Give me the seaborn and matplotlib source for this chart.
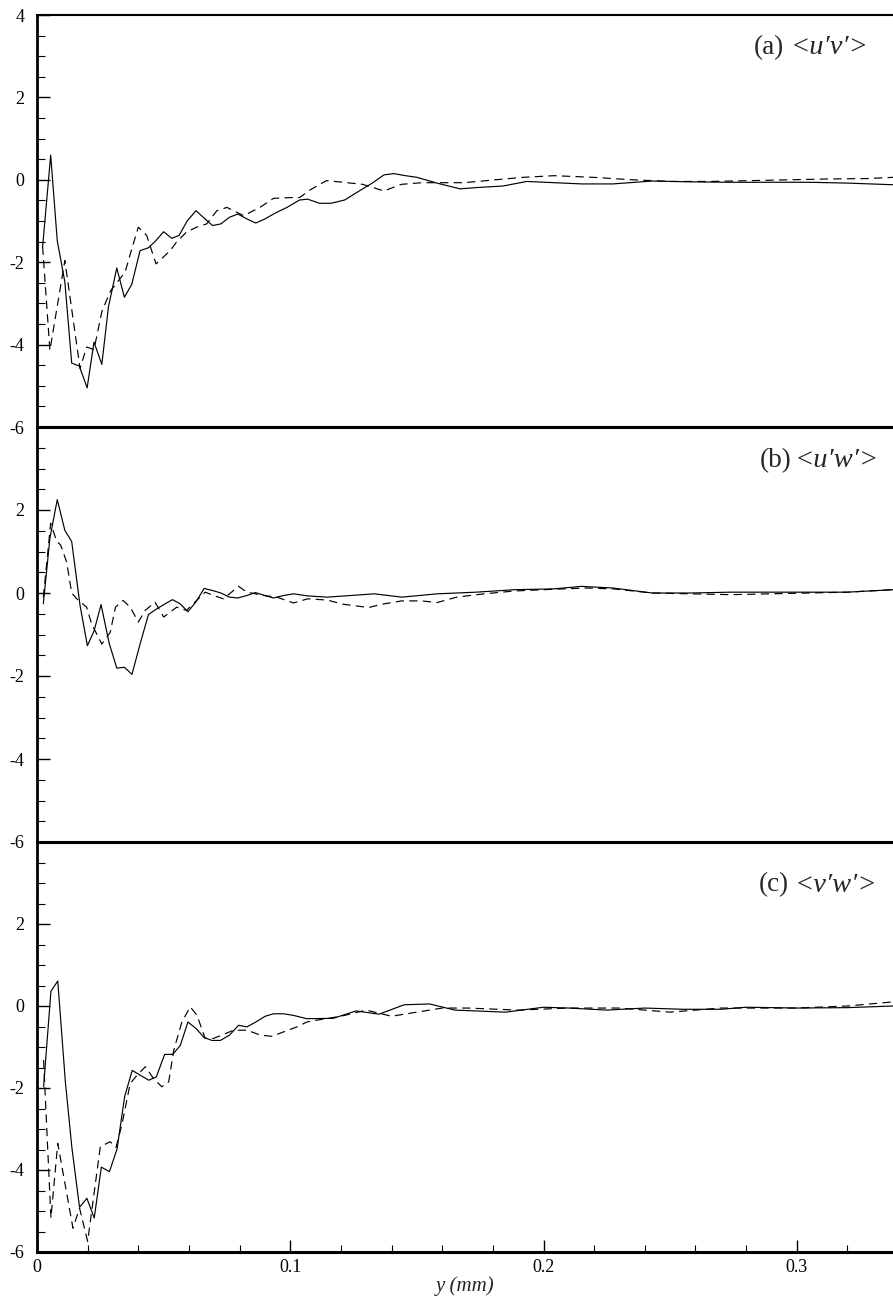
import matplotlib
matplotlib.use("Agg")
import matplotlib.pyplot as plt
from matplotlib.ticker import MultipleLocator
import seaborn as sns
import pandas as pd

# ---------------- data ----------------
ua_x = [0.0022, 0.0054, 0.008, 0.011, 0.0137, 0.0167, 0.0198, 0.0225, 0.0256, 0.0282, 0.0315, 0.0345,
        0.0374, 0.0407, 0.044, 0.0466, 0.05, 0.0532, 0.0561, 0.0594, 0.0628, 0.066, 0.0693, 0.0726,
        0.076, 0.0793, 0.0829, 0.0864, 0.09, 0.094, 0.0987, 0.1037, 0.1069, 0.1115, 0.1161, 0.1215,
        0.127, 0.1324, 0.137, 0.1409, 0.1455, 0.150, 0.1579, 0.1671, 0.1733, 0.1841, 0.1934, 0.2042,
        0.215, 0.2274, 0.2429, 0.2583, 0.2738, 0.2892, 0.3047, 0.320, 0.338]
ua_y = [-1.64, 0.60, -1.48, -2.48, -4.45, -4.52, -5.05, -3.94, -4.48, -3.09, -2.14, -2.85,
        -2.54, -1.72, -1.65, -1.5, -1.26, -1.42, -1.35, -0.99, -0.75, -0.93, -1.11, -1.07,
        -0.91, -0.83, -0.95, -1.05, -0.95, -0.81, -0.67, -0.49, -0.47, -0.57, -0.57, -0.49,
        -0.28, -0.08, 0.12, 0.15, 0.10, 0.06, -0.08, -0.22, -0.19, -0.15, -0.04, -0.07,
        -0.10, -0.10, -0.03, -0.05, -0.06, -0.06, -0.06, -0.08, -0.12]

da_x = [0.0022, 0.0051, 0.011, 0.017, 0.0196, 0.0225, 0.0256, 0.029, 0.0348, 0.0374, 0.040, 0.0433,
        0.047, 0.0526, 0.055, 0.059, 0.063, 0.067, 0.071, 0.075, 0.0776, 0.0816, 0.088, 0.0934,
        0.101, 0.1037, 0.108, 0.1143, 0.1209, 0.1285, 0.137, 0.1439, 0.152, 0.161, 0.1688, 0.181,
        0.192, 0.2042, 0.2196, 0.235, 0.2506, 0.266, 0.2815, 0.297, 0.312, 0.3277, 0.338]
da_y = [-1.62, -4.14, -1.96, -4.58, -4.06, -4.12, -3.2, -2.7, -2.24, -1.68, -1.15, -1.35,
        -2.04, -1.72, -1.52, -1.27, -1.15, -1.07, -0.75, -0.67, -0.75, -0.87, -0.67, -0.45,
        -0.43, -0.43, -0.24, -0.02, -0.06, -0.11, -0.27, -0.11, -0.07, -0.07, -0.07, 0.0,
        0.06, 0.10, 0.06, 0.0, -0.04, -0.04, -0.02, 0.0, 0.02, 0.03, 0.06]

ub_x = [0.0025, 0.0051, 0.008, 0.011, 0.0137, 0.017, 0.0199, 0.0225, 0.0253, 0.0285, 0.0315, 0.0345,
        0.0375, 0.0407, 0.044, 0.0473, 0.0506, 0.0535, 0.0565, 0.0596, 0.0627, 0.066, 0.0693, 0.0726,
        0.076, 0.0793, 0.0829, 0.0862, 0.09, 0.0934, 0.0974, 0.1013, 0.1069, 0.1146, 0.1332, 0.144,
        0.158, 0.1733, 0.1888, 0.2042, 0.215, 0.2274, 0.2429, 0.2583, 0.2738, 0.2892, 0.3047, 0.320, 0.338]
ub_y = [-0.26, 1.32, 2.25, 1.51, 1.24, -0.3, -1.27, -0.92, -0.28, -1.21, -1.81, -1.79,
        -1.96, -1.23, -0.52, -0.38, -0.26, -0.16, -0.26, -0.45, -0.22, 0.11, 0.06, 0.0,
        -0.10, -0.12, -0.06, 0.01, -0.06, -0.12, -0.06, -0.02, -0.07, -0.10, -0.02, -0.10,
        -0.02, 0.02, 0.08, 0.10, 0.16, 0.12, 0.0, 0.0, 0.02, 0.02, 0.02, 0.02, 0.08]

db_x = [0.0025, 0.0054, 0.0078, 0.0093, 0.0117, 0.0137, 0.0157, 0.0196, 0.0216, 0.0256, 0.0289, 0.031,
        0.034, 0.0368, 0.040, 0.0427, 0.0466, 0.050, 0.0552, 0.059, 0.0664, 0.0697, 0.0736, 0.0796,
        0.0829, 0.0895, 0.0947, 0.1013, 0.1069, 0.1146, 0.1208, 0.1309, 0.1363, 0.144, 0.1518, 0.158,
        0.1657, 0.1765, 0.1888, 0.2042, 0.2166, 0.2274, 0.2429, 0.2583, 0.2738, 0.2892, 0.3047, 0.320, 0.338]
db_y = [-0.1, 1.68, 1.24, 1.16, 0.75, 0.0, -0.14, -0.34, -0.75, -1.23, -0.95, -0.34,
        -0.18, -0.34, -0.70, -0.42, -0.22, -0.58, -0.34, -0.42, 0.02, -0.06, -0.14, 0.16,
        0.02, -0.06, -0.10, -0.24, -0.14, -0.17, -0.27, -0.35, -0.27, -0.19, -0.19, -0.23,
        -0.10, -0.02, 0.05, 0.09, 0.12, 0.10, 0.0, -0.02, -0.04, -0.02, 0.0, 0.02, 0.08]

uc_x = [0.0026, 0.0055, 0.0082, 0.0112, 0.0138, 0.0168, 0.0197, 0.0226, 0.0254, 0.0286, 0.0316, 0.0346,
        0.0376, 0.0408, 0.0441, 0.0471, 0.0504, 0.0536, 0.0566, 0.0596, 0.0628, 0.066, 0.0691, 0.0724,
        0.076, 0.0796, 0.0829, 0.0864, 0.0901, 0.0934, 0.0974, 0.1013, 0.1066, 0.117, 0.126, 0.135,
        0.145, 0.155, 0.165, 0.185, 0.2, 0.21, 0.225, 0.24, 0.255, 0.27, 0.28, 0.3, 0.32, 0.338]
uc_y = [-1.97, 0.36, 0.61, -1.85, -3.47, -4.91, -4.69, -5.17, -3.93, -4.04, -3.49, -2.21,
        -1.57, -1.69, -1.81, -1.73, -1.18, -1.18, -0.96, -0.39, -0.55, -0.77, -0.84, -0.84,
        -0.71, -0.47, -0.51, -0.39, -0.25, -0.19, -0.19, -0.23, -0.31, -0.3, -0.12, -0.2,
        0.03, 0.05, -0.1, -0.15, -0.03, -0.05, -0.1, -0.05, -0.08, -0.08, -0.03, -0.05, -0.04, 0.0]

dc_x = [0.0026, 0.0055, 0.0082, 0.0142, 0.0168, 0.020, 0.025, 0.0289, 0.0312, 0.0335, 0.0368, 0.0395,
        0.0428, 0.046, 0.0493, 0.052, 0.054, 0.0572, 0.0605, 0.0632, 0.0664, 0.0697, 0.073, 0.0776,
        0.0829, 0.0882, 0.0928, 0.0974, 0.1026, 0.1066, 0.11, 0.12, 0.13, 0.14, 0.15, 0.16,
        0.17, 0.19, 0.21, 0.23, 0.25, 0.27, 0.3, 0.32, 0.338]
dc_y = [-1.32, -5.17, -3.35, -5.42, -4.93, -5.74, -3.43, -3.31, -3.45, -2.9, -1.89, -1.69,
        -1.48, -1.77, -1.97, -1.85, -1.08, -0.39, -0.02, -0.23, -0.79, -0.79, -0.71, -0.59,
        -0.59, -0.71, -0.74, -0.63, -0.51, -0.39, -0.35, -0.25, -0.1, -0.25, -0.15, -0.05,
        -0.05, -0.1, -0.05, -0.05, -0.15, -0.05, -0.05, 0.0, 0.1]

panel_tags = ["(a)", "(b)", "(c)"]
panel_names = ["<u\u2032v\u2032>", "<u\u2032w\u2032>", "<v\u2032w\u2032>"]
x_ticks = [0, 0.1, 0.2, 0.3]
x_ticklabels = ["0", "0.1", "0.2", "0.3"]
y_ticks_top = [-6, -4, -2, 0, 2, 4]
y_ticks_other = [-6, -4, -2, 0, 2]

# ---------------- style ----------------
sns.set_theme(style="ticks", rc={"axes.edgecolor": "black", "xtick.color": "black",
                                 "ytick.color": "black", "axes.facecolor": "none"})
plt.rcParams["font.family"] = ["Liberation Serif", "DejaVu Serif"]
plt.rcParams["axes.unicode_minus"] = False

W, H = 893, 1298
fig = plt.figure(figsize=(W / 100, H / 100), dpi=100)
fig.patch.set_facecolor("white")

def rect(top, bottom):
    return [37 / W, 1 - bottom / H, 1 - 37 / W, (bottom - top) / H]

axes = [fig.add_axes(rect(15, 427)), fig.add_axes(rect(427, 842)), fig.add_axes(rect(842, 1252))]

series = [((ua_x, ua_y), (da_x, da_y)), ((ub_x, ub_y), (db_x, db_y)), ((uc_x, uc_y), (dc_x, dc_y))]
label_y = [3.22, 3.2, 2.95]
label_xr = [0.3285, 0.3325, 0.332]
tag_gap = [-5, -2.5, -4.5]

for i, ax in enumerate(axes):
    ax.patch.set_alpha(0)
    (sx, sy), (dx, dy) = series[i]
    dfs = pd.DataFrame({"x": sx, "y": sy})
    dfd = pd.DataFrame({"x": dx, "y": dy})
    sns.lineplot(data=dfs, x="x", y="y", ax=ax, color="black", linewidth=0.85,
                 estimator=None, sort=False)
    sns.lineplot(data=dfd, x="x", y="y", ax=ax, color="black", linewidth=0.85,
                 estimator=None, sort=False, linestyle=(0, (7, 4.5)))
    ax.set_xlim(0, 0.338)
    ax.set_ylim(-6, 4)
    ax.set_xlabel("")
    ax.set_ylabel("")
    ax.spines["right"].set_visible(False)
    ax.spines["left"].set_linewidth(2.0)
    ax.spines["bottom"].set_linewidth(2.2)
    if i == 0:
        ax.spines["top"].set_linewidth(1.5)
        ax.set_yticks(y_ticks_top)
    else:
        ax.spines["top"].set_visible(False)
        ax.set_yticks(y_ticks_other)
    ax.yaxis.set_minor_locator(MultipleLocator(0.5))
    ax.set_yticklabels([str(t) for t in ax.get_yticks()])
    ax.tick_params(axis="y", which="major", direction="in", length=9, width=1.0,
                   labelsize=13, pad=9, left=True, right=False)
    ax.tick_params(axis="y", which="minor", direction="in", length=6, width=0.8,
                   left=True, right=False)
    if i < 2:
        ax.tick_params(axis="x", which="both", bottom=False, labelbottom=False)
    else:
        ax.set_xticks(x_ticks)
        ax.set_xticklabels(x_ticklabels)
        ax.xaxis.set_minor_locator(MultipleLocator(0.02))
        ax.tick_params(axis="x", which="major", direction="in", length=9, width=1.0,
                       labelsize=13, pad=5, bottom=True, top=False)
        ax.tick_params(axis="x", which="minor", direction="in", length=5, width=0.8,
                       bottom=True, top=False)
        ax.set_xlabel("y (mm)", fontsize=15, style="italic", labelpad=0)
    t = ax.text(label_xr[i], label_y[i], panel_names[i], fontsize=20.5, style="italic",
                ha="right", va="center")
    ax.annotate(panel_tags[i], xy=(0, 0.5), xycoords=t, xytext=(tag_gap[i], 0),
                textcoords="offset points", fontsize=19.5, ha="right", va="center")

fig.savefig("out.png", dpi=100, facecolor="white")
